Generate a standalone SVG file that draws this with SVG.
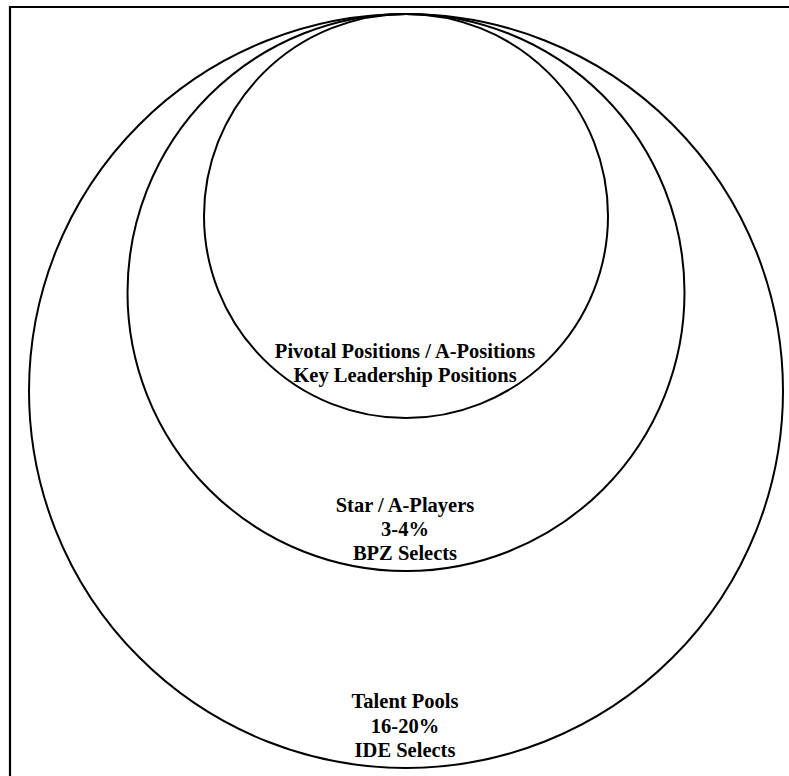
<svg xmlns="http://www.w3.org/2000/svg" width="789" height="776" viewBox="0 0 789 776">
<style>
.c{fill:none;stroke:#000;stroke-width:2}
.t{font-family:"Liberation Serif","Times New Roman",serif;font-weight:bold;font-size:20.5px;fill:#000;text-anchor:middle}
</style>
<rect x="0" y="0" width="789" height="776" fill="#fff"/>
<path d="M10,776 V7 H789" fill="none" stroke="#000" stroke-width="2.2"/>
<g id="talent-pools">
<circle class="c" cx="406" cy="391" r="377"/>
<text class="t" x="405" y="708">Talent Pools</text>
<text class="t" x="405" y="732.5">16-20%</text>
<text class="t" x="405" y="757">IDE Selects</text>
</g>
<g id="star-players">
<circle class="c" cx="406" cy="292.5" r="278.5"/>
<text class="t" x="405" y="511.5">Star / A-Players</text>
<text class="t" x="405" y="535.5">3-4%</text>
<text class="t" x="405" y="559.5">BPZ Selects</text>
</g>
<g id="pivotal-positions">
<circle class="c" cx="406" cy="216" r="202"/>
<text class="t" x="405" y="358">Pivotal Positions / A-Positions</text>
<text class="t" x="405" y="381.5">Key Leadership Positions</text>
</g>
<g id="connectors"/>
</svg>
